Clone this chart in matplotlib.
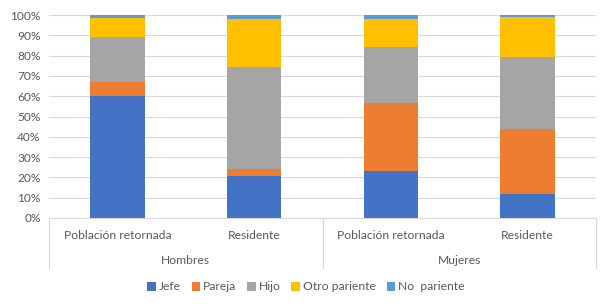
import numpy as np
import matplotlib
matplotlib.use("Agg")
import matplotlib.pyplot as plt
from matplotlib.patches import Patch
from matplotlib.transforms import blended_transform_factory

plt.rcParams['font.family'] = ['Lato', 'DejaVu Sans']

# datos (porcentaje por tipo de parentesco)
grupos = ['Hombres', 'Mujeres']
poblaciones = ['Población retornada', 'Residente', 'Población retornada', 'Residente']
series = ['Jefe', 'Pareja', 'Hijo', 'Otro pariente', 'No  pariente']
jefe = [60.2, 20.8, 23.3, 12.0]
pareja = [6.7, 3.3, 33.4, 31.8]
hijo = [22.3, 50.5, 27.7, 35.5]
otro = [9.5, 23.4, 13.8, 19.9]
no_pariente = [1.3, 2.0, 1.8, 0.8]
colores = ['#4472C4', '#ED7D31', '#A5A5A5', '#FFC000', '#5B9BD5']

valores = np.array([jefe, pareja, hijo, otro, no_pariente]) / 100.0

fig = plt.figure(figsize=(6.12, 3.08), dpi=100)
ax = fig.add_axes([49/612, 1-218/308, (596-49)/612, 203/308])

x = np.arange(len(poblaciones))
base = np.zeros(len(poblaciones))
for i, s in enumerate(series):
    ax.bar(x, valores[i], bottom=base, width=0.4, color=colores[i], label=s, zorder=3)
    base += valores[i]

ax.set_xlim(-0.5, 3.5)
ax.set_ylim(0, 1)
ax.set_yticks(np.arange(0, 1.01, 0.1))
ax.set_yticklabels(['%d%%' % round(v*100) for v in np.arange(0, 1.01, 0.1)])
ax.tick_params(axis='y', length=0, labelsize=8.6, labelcolor='#595959', pad=6)
ax.set_xticks([])
ax.grid(axis='y', color='#D9D9D9', linewidth=0.8, zorder=0)
for sp in ax.spines.values():
    sp.set_visible(False)

# eje de categorias en dos niveles
tr = blended_transform_factory(ax.transData, ax.transAxes)
linea = '#D9D9D9'
ax.plot([-0.5, 3.5], [0, 0], color=linea, lw=0.8, transform=tr, clip_on=False)
for xv in [-0.5, 1.5, 3.5]:
    ax.plot([xv, xv], [0, -0.246], color=linea, lw=0.8, transform=tr, clip_on=False)
for xi, nombre in zip(x, poblaciones):
    ax.text(xi, -0.084, nombre, transform=tr, ha='center', va='center',
            fontsize=8.7, color='#595959')
for gi, g in enumerate(grupos):
    ax.text(gi*2 + 0.5, -0.207, g, transform=tr, ha='center', va='center',
            fontsize=8.7, color='#595959')

handles = [Patch(facecolor=c, edgecolor='none') for c in colores]
fig.legend(handles, series, loc='center', bbox_to_anchor=(0.5, 1-287/308), ncol=5,
           frameon=False, fontsize=8.7, handlelength=0.7, handleheight=0.7,
           handletextpad=0.25, columnspacing=0.9, labelcolor='#595959')

fig.savefig('out.png', dpi=100)
